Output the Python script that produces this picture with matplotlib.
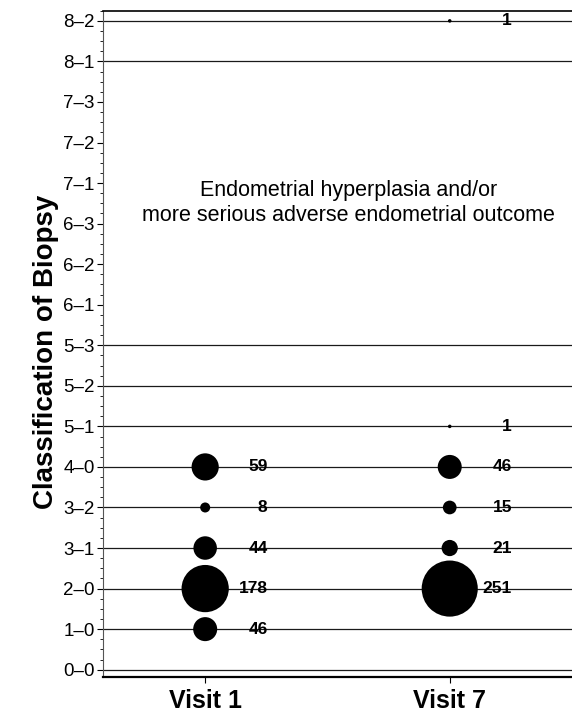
import matplotlib
matplotlib.use("Agg")
import matplotlib.pyplot as plt
from matplotlib.ticker import AutoMinorLocator

plt.rcParams['font.family'] = ['Liberation Sans', 'DejaVu Sans']

# biopsy classes, bottom to top
categories = ['0\u20130', '1\u20130', '2\u20130', '3\u20131', '3\u20132', '4\u20130',
              '5\u20131', '5\u20132', '5\u20133', '6\u20131', '6\u20132', '6\u20133',
              '7\u20131', '7\u20132', '7\u20133', '8\u20131', '8\u20132']
visits = ['Visit 1', 'Visit 7']

# counts per class at each visit
visit1_classes = ['1\u20130', '2\u20130', '3\u20131', '3\u20132', '4\u20130']
visit1_counts = [46, 178, 44, 8, 59]
visit7_classes = ['2\u20130', '3\u20131', '3\u20132', '4\u20130', '5\u20131', '8\u20132']
visit7_counts = [251, 21, 15, 46, 1, 1]

# rows that have a horizontal reference line
lined_rows = ['0\u20130', '1\u20130', '2\u20130', '3\u20131', '3\u20132', '4\u20130',
              '5\u20131', '5\u20132', '5\u20133', '8\u20131', '8\u20132']

note = "Endometrial hyperplasia and/or\nmore serious adverse endometrial outcome"

fig = plt.figure(figsize=(5.72, 7.16), dpi=100)
ax = fig.add_axes([0.180, 0.0545, 0.82, 0.9305])

ypos = {c: i for i, c in enumerate(categories)}

for c in lined_rows:
    ax.axhline(ypos[c], color='#1a1a1a', lw=0.9, zorder=1)

for xi, (cls, cnt) in enumerate([(visit1_classes, visit1_counts), (visit7_classes, visit7_counts)]):
    ys = [ypos[c] for c in cls]
    ax.scatter([xi] * len(ys), ys, s=[6.5 * n for n in cnt], color='black', zorder=3, linewidths=0)
    for y, n in zip(ys, cnt):
        ax.text(xi + 0.255, y, str(n), ha='right', va='center', fontsize=12.5,
                fontweight='bold', zorder=4)

ax.text(0.586, 11.52, note, ha='center', va='center', fontsize=15.5, linespacing=1.25)

ax.set_xlim(-0.418, 1.5)
ax.set_ylim(-0.18, 16.25)
ax.set_yticks(range(len(categories)))
ax.set_yticklabels(categories, fontsize=13.5)
ax.set_xticks([0, 1])
ax.set_xticklabels(visits, fontsize=18, fontweight='bold')
ax.set_ylabel('Classification of Biopsy', fontsize=20, fontweight='bold')
ax.yaxis.set_label_coords(-0.094, 0.488)

ax.yaxis.set_minor_locator(AutoMinorLocator(4))
ax.tick_params(axis='y', which='major', length=4, width=0.8, pad=2)
ax.tick_params(axis='y', which='minor', length=2, width=0.6)
ax.tick_params(axis='x', length=4, width=0.8, pad=5)

ax.spines['right'].set_visible(False)
ax.spines['left'].set_color('#555555')
ax.spines['bottom'].set_linewidth(1.6)
ax.spines['top'].set_linewidth(1.2)

fig.savefig('out.png', dpi=100)
